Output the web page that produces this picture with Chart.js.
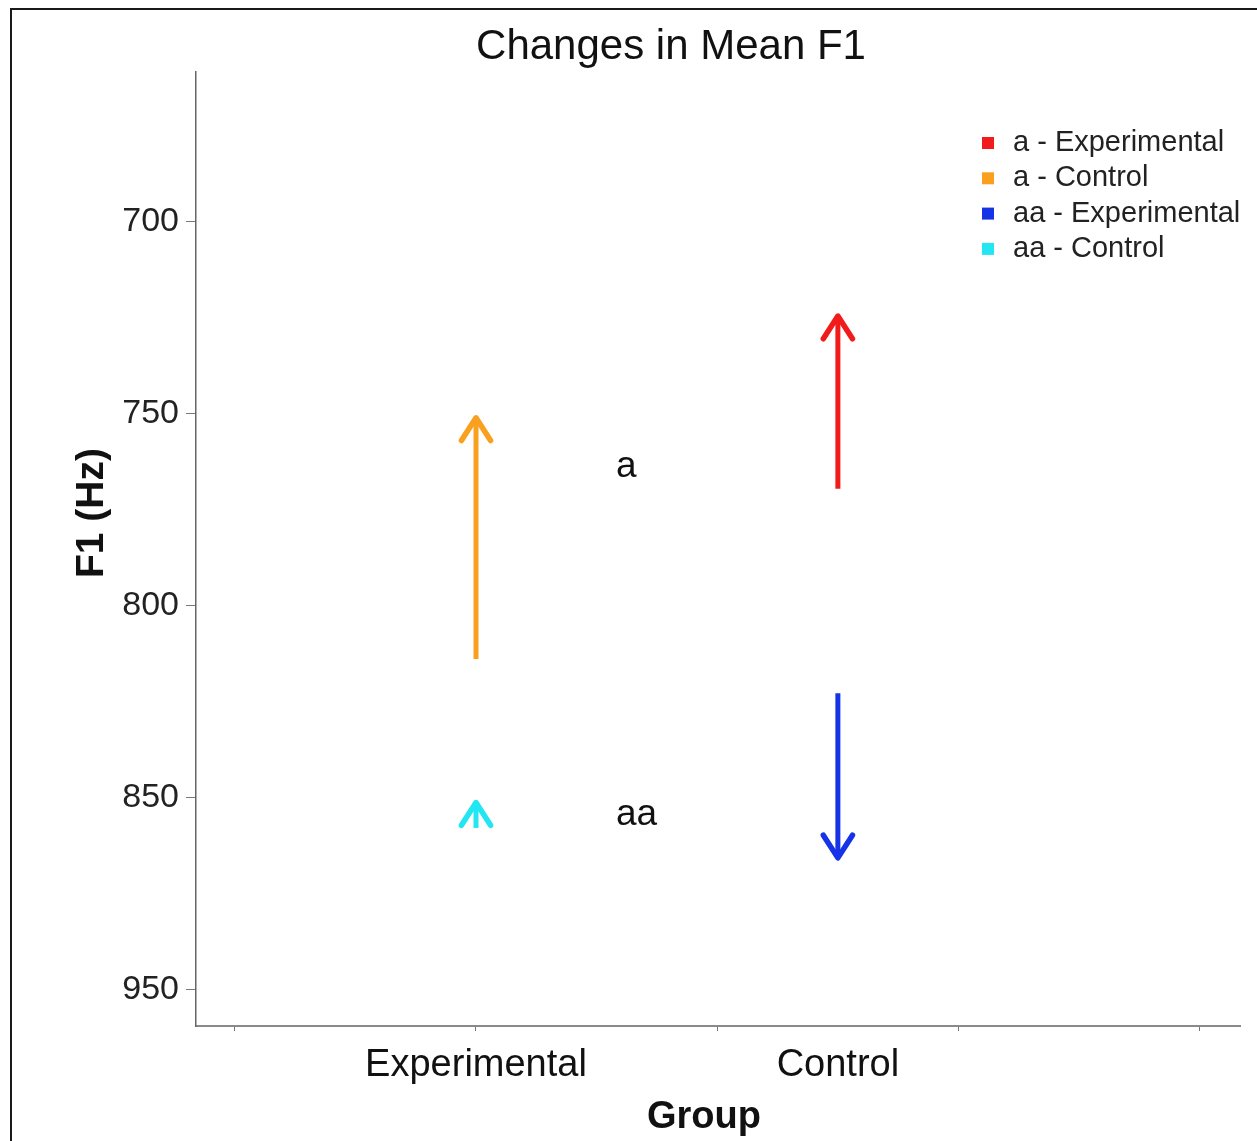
<!DOCTYPE html>
<html lang="en">
<head>
    <meta charset="UTF-8">
    <title>Changes in Mean F1</title>
    <script src="https://cdn.jsdelivr.net/npm/chart.js"></script>
    <style>
        body { margin: 0; background: #fff; }
        #wrap { position: relative; width: 1257px; height: 1141px; overflow: hidden; }
        #frame { position: absolute; left: 10px; top: 8px; width: 1300px; height: 1200px; border: 2px solid #1a1a1a; pointer-events: none; }
    </style>
</head>
<body>
    <div id="wrap">
        <canvas id="f1Chart" width="1257" height="1141"></canvas>
        <div id="frame"></div>
    </div>

    <script>
        // groups on the x axis and where they sit on it
        const groups = ['Experimental', 'Control'];
        const groupPos = [1, 2.5];
        const xTickValues = [0, 1, 2, 2.5, 3, 4];

        // one arrow per series: start -> end of mean F1 (Hz)
        const seriesLabels = ['a - Experimental', 'a - Control', 'aa - Experimental', 'aa - Control'];
        const seriesGroup = [1, 0, 1, 0];
        const startF1 = [769.5, 813.8, 822.7, 857.8];
        const endF1 = [724.5, 751.0, 865.6, 851.2];
        const seriesColors = ['#F21B1B', '#F9A11E', '#1733E6', '#22E6F2'];

        // y ticks as printed on the original
        const yTickValues = [700, 750, 800, 850, 900];
        const yTickLabels = ['700', '750', '800', '850', '950'];

        // vowel labels in the middle
        const vowelLabels = ['a', 'aa'];
        const vowelX = [1.58, 1.58];
        const vowelY = [763.8, 854.4];

        const FONT = "'Liberation Sans', Arial, Helvetica, sans-serif";

        const datasets = seriesLabels.map((label, i) => ({
            label: label,
            data: [
                { x: groupPos[seriesGroup[i]], y: startF1[i] },
                { x: groupPos[seriesGroup[i]], y: endF1[i] }
            ],
            showLine: true,
            borderColor: seriesColors[i],
            backgroundColor: seriesColors[i],
            borderWidth: 5,
            borderCapStyle: 'butt',
            pointRadius: 0
        }));

        const arrowPlugin = {
            id: 'arrows',
            afterDatasetsDraw(chart) {
                const ctx = chart.ctx;
                chart.data.datasets.forEach((ds, i) => {
                    const pts = chart.getDatasetMeta(i).data;
                    const p0 = pts[0], p1 = pts[1];
                    const ang = Math.atan2(p1.y - p0.y, p1.x - p0.x);
                    const len = 27, spread = 0.57;
                    ctx.save();
                    ctx.strokeStyle = ds.borderColor;
                    ctx.lineWidth = 5.5;
                    ctx.lineCap = 'round';
                    ctx.lineJoin = 'round';
                    ctx.beginPath();
                    ctx.moveTo(p1.x - len * Math.cos(ang - spread), p1.y - len * Math.sin(ang - spread));
                    ctx.lineTo(p1.x, p1.y);
                    ctx.lineTo(p1.x - len * Math.cos(ang + spread), p1.y - len * Math.sin(ang + spread));
                    ctx.stroke();
                    ctx.restore();
                });

                // vowel labels
                const xs = chart.scales.x, ys = chart.scales.y;
                ctx.save();
                ctx.fillStyle = '#111';
                ctx.font = '37px ' + FONT;
                ctx.textAlign = 'left';
                ctx.textBaseline = 'middle';
                vowelLabels.forEach((t, i) => {
                    ctx.fillText(t, xs.getPixelForValue(vowelX[i]), ys.getPixelForValue(vowelY[i]));
                });
                ctx.restore();
            }
        };

        // title, axis titles and legend, placed as in the original figure
        const textPlugin = {
            id: 'figureText',
            afterDraw(chart) {
                const ctx = chart.ctx;
                const area = chart.chartArea;
                ctx.save();
                ctx.fillStyle = '#111';
                ctx.textAlign = 'center';
                ctx.textBaseline = 'middle';

                ctx.font = '42px ' + FONT;
                ctx.fillText('Changes in Mean F1', 671, 47);

                ctx.font = 'bold 38px ' + FONT;
                ctx.fillText('Group', 704, 1118);

                ctx.save();
                ctx.translate(92, 513);
                ctx.rotate(-Math.PI / 2);
                ctx.font = 'bold 39px ' + FONT;
                ctx.fillText('F1 (Hz)', 0, 0);
                ctx.restore();

                // legend
                const left = area.right - 258;
                const top = area.top + 71;
                ctx.font = '29px ' + FONT;
                ctx.textAlign = 'left';
                chart.data.datasets.forEach((ds, i) => {
                    const y = top + i * 35.3;
                    ctx.fillStyle = ds.borderColor;
                    ctx.fillRect(left, y - 6, 12, 12);
                    ctx.fillStyle = '#222';
                    ctx.fillText(ds.label, left + 31, y);
                });
                ctx.restore();
            }
        };

        new Chart(document.getElementById('f1Chart').getContext('2d'), {
            type: 'scatter',
            data: { datasets: datasets },
            options: {
                responsive: false,
                animation: false,
                layout: { padding: { left: 0, right: 17, top: 72, bottom: 0 } },
                plugins: {
                    legend: { display: false },
                    tooltip: { enabled: false },
                    title: { display: false }
                },
                scales: {
                    x: {
                        type: 'linear',
                        min: -0.1606,
                        max: 4.1668,
                        afterBuildTicks: (scale) => { scale.ticks = xTickValues.map(v => ({ value: v })); },
                        afterFit: (scale) => { scale.height = 115; },
                        ticks: {
                            autoSkip: false,
                            maxRotation: 0,
                            padding: 12,
                            color: '#111',
                            font: { family: FONT, size: 38 },
                            callback: (v) => {
                                const k = groupPos.indexOf(v);
                                return k >= 0 ? groups[k] : '';
                            }
                        },
                        grid: {
                            drawOnChartArea: false,
                            tickLength: 5,
                            tickColor: (c) => (c.tick && c.tick.value === 2.5) ? 'rgba(0,0,0,0)' : '#777'
                        },
                        border: { color: '#8a8a8a', width: 2 }
                    },
                    y: {
                        type: 'linear',
                        reverse: true,
                        min: 660.94,
                        max: 909.38,
                        afterBuildTicks: (scale) => { scale.ticks = yTickValues.map(v => ({ value: v })); },
                        afterFit: (scale) => { scale.width = 196; },
                        ticks: {
                            padding: 7,
                            color: '#222',
                            font: { family: FONT, size: 34 },
                            callback: (v) => yTickLabels[yTickValues.indexOf(v)]
                        },
                        grid: {
                            drawOnChartArea: false,
                            tickLength: 10,
                            tickColor: '#777'
                        },
                        border: { color: '#666', width: 1.5 }
                    }
                }
            },
            plugins: [arrowPlugin, textPlugin]
        });
    </script>
</body>
</html>
